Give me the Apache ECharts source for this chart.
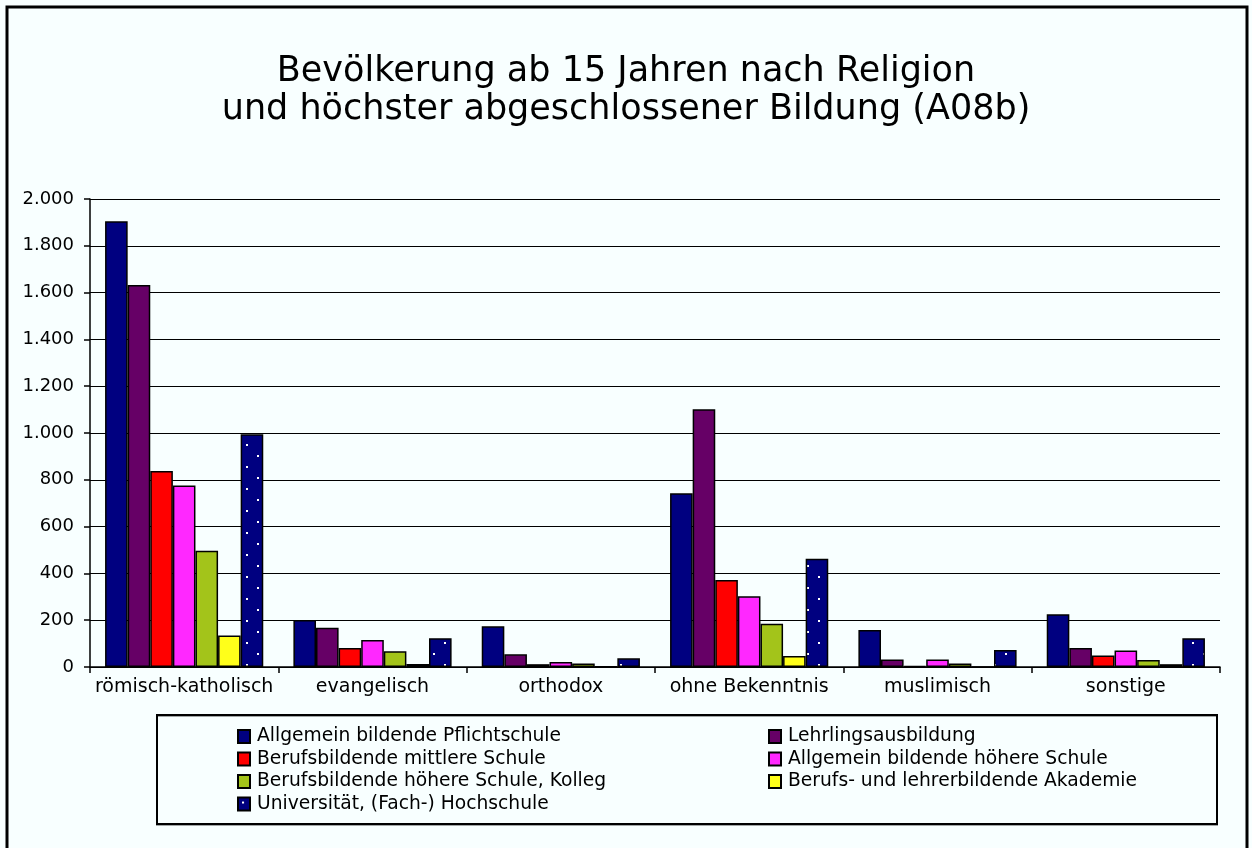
<!DOCTYPE html>
<html>
<head>
<meta charset="utf-8">
<script src="https://cdn.jsdelivr.net/npm/echarts@6/dist/echarts.min.js"></script>
<style>
  html, body { margin: 0; padding: 0; background: #f8ffff; }
  #main { width: 1252px; height: 848px; }
</style>
</head>
<body>
<div id="main"></div>
<script>
// Kategorien (Religion)
const religionen = ['römisch-katholisch', 'evangelisch', 'orthodox', 'ohne Bekenntnis', 'muslimisch', 'sonstige'];

// Werte je Bildungsstufe (in 1.000)
const pflichtschule = [1905, 201, 174, 742, 158, 225];
const lehre = [1633, 168, 54, 1101, 32, 81];
const bms = [838, 81, 12, 372, 4, 49];
const ahs = [776, 115, 21, 302, 32, 71];
const bhs = [497, 67, 15, 185, 15, 30];
const akademie = [135, 13, 2, 47, 1, 12];
const uni = [995, 123, 37, 463, 73, 123];

const yTicks = [0, 200, 400, 600, 800, 1000, 1200, 1400, 1600, 1800, 2000];

// gepunktetes Muster für Universität
const tile = document.createElement('canvas');
tile.width = 22; tile.height = 22;
const tctx = tile.getContext('2d');
tctx.fillStyle = '#000080';
tctx.fillRect(0, 0, 22, 22);
tctx.fillStyle = '#ffffff';
tctx.fillRect(4, 4, 2, 2);
tctx.fillRect(15, 15, 2, 2);

const font = 'DejaVu Sans';
const chart = echarts.init(document.getElementById('main'));

function bar(name, data, color) {
  return {
    name: name,
    type: 'bar',
    data: data,
    barGap: 0,
    barCategoryGap: '16%',
    itemStyle: { color: color, borderColor: '#000', borderWidth: 1.5 }
  };
}

const legendBase = {
  orient: 'vertical', top: 722, itemGap: 3.5, itemWidth: 12, itemHeight: 13,
  icon: 'rect',
  textStyle: { fontFamily: font, fontSize: 18.7, color: '#000', padding: [0, 0, 0, 2] }
};

const option = {
  backgroundColor: '#f8ffff',
  animation: false,
  title: {
    text: 'Bevölkerung ab 15 Jahren nach Religion\nund höchster abgeschlossener Bildung (A08b)',
    left: 'center',
    top: 48,
    textStyle: { fontFamily: font, fontSize: 35, fontWeight: 'normal', color: '#000', lineHeight: 38 }
  },
  grid: { left: 90, right: 32, top: 199, bottom: 181 },
  legend: [
    Object.assign({}, legendBase, {
      left: 232,
      data: ['Allgemein bildende Pflichtschule', 'Berufsbildende mittlere Schule', 'Berufsbildende höhere Schule, Kolleg', 'Universität, (Fach-) Hochschule']
    }),
    Object.assign({}, legendBase, {
      left: 763,
      data: ['Lehrlingsausbildung', 'Allgemein bildende höhere Schule', 'Berufs- und lehrerbildende Akademie']
    })
  ],
  xAxis: {
    type: 'category',
    data: religionen,
    axisLine: { lineStyle: { color: '#000', width: 1.5 } },
    axisTick: { show: true, length: 6, lineStyle: { color: '#000', width: 1.5 } },
    axisLabel: { interval: 0, fontFamily: font, fontSize: 19, color: '#000', margin: 11 }
  },
  yAxis: {
    type: 'value',
    min: yTicks[0],
    max: yTicks[yTicks.length - 1],
    interval: yTicks[1] - yTicks[0],
    axisLine: { show: true, lineStyle: { color: '#000', width: 1.5 } },
    axisTick: { show: true, length: 6, lineStyle: { color: '#000', width: 1.5 } },
    splitLine: { lineStyle: { color: '#000', width: 1.2 } },
    axisLabel: {
      fontFamily: font, fontSize: 18, color: '#000', margin: 16,
      formatter: v => v.toString().replace(/\B(?=(\d{3})+(?!\d))/g, '.')
    }
  },
  graphic: [
    { type: 'rect', shape: { x: 7, y: 7, width: 1240, height: 870 }, style: { fill: 'none', stroke: '#000', lineWidth: 3 }, silent: true },
    { type: 'rect', shape: { x: 157, y: 715, width: 1060, height: 109 }, style: { fill: 'none', stroke: '#000', lineWidth: 2, shadowColor: 'rgba(0,0,0,0.35)', shadowOffsetY: 1 }, silent: true, z: -1 }
  ],
  series: [
    bar('Allgemein bildende Pflichtschule', pflichtschule, '#000080'),
    bar('Lehrlingsausbildung', lehre, '#660066'),
    bar('Berufsbildende mittlere Schule', bms, '#ff0000'),
    bar('Allgemein bildende höhere Schule', ahs, '#ff28ff'),
    bar('Berufsbildende höhere Schule, Kolleg', bhs, '#a3c41a'),
    bar('Berufs- und lehrerbildende Akademie', akademie, '#ffff1a'),
    bar('Universität, (Fach-) Hochschule', uni, { image: tile, repeat: 'repeat' })
  ]
};

chart.setOption(option);
</script>
</body>
</html>
